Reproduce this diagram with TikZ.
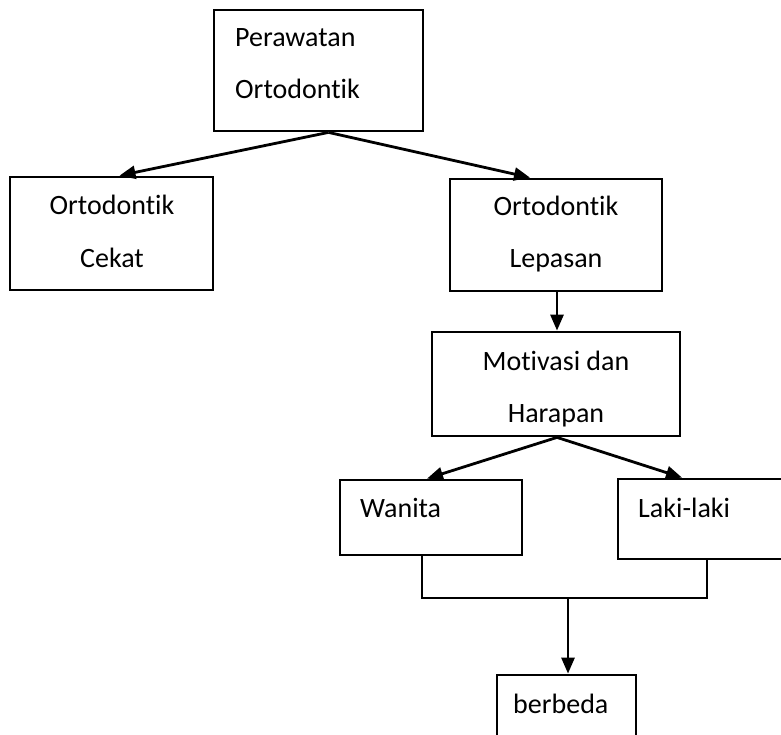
\documentclass[tikz,border=0pt]{standalone}
\usepackage{fontspec}
\setmainfont[Ligatures=NoCommon]{Carlito}
\usetikzlibrary{arrows.meta}
\begin{document}
\begin{tikzpicture}[x=1pt,y=-1pt,
	box/.style={draw,line width=2.8pt,inner sep=0pt},
	txt/.style={inner sep=0pt,font=\fontsize{28}{52}\selectfont},
	arr/.style={line width=2.8pt,-{Triangle[length=16pt,width=13pt]}}]
	\clip (0,0) rectangle (781,735);
	\node[box,minimum width=209,minimum height=121] (pera) at (318.5,70.5) {};
	\node[box,minimum width=203,minimum height=113] (cekat) at (111.5,233.5) {};
	\node[box,minimum width=212,minimum height=112] (lepas) at (556,235) {};
	\node[box,minimum width=248,minimum height=104] (motiv) at (556,384) {};
	\node[box,minimum width=182,minimum height=75] (wanita) at (431,517.5) {};
	\node[box,minimum width=182,minimum height=80] (laki) at (709,519) {};
	\node[box,minimum width=139,minimum height=84] (beda) at (566.5,717) {};
	\node[txt,anchor=base west,align=left] (tpera) at (235,99) {Perawatan\\Ortodontik};
	\node[txt,anchor=base,align=center] (tcekat) at (112,267) {Ortodontik\\Cekat};
	\node[txt,anchor=base,align=center] (tlepas) at (556,268) {Ortodontik\\Lepasan};
	\node[txt,anchor=base,align=center] (tmotiv) at (556,422) {Motivasi dan\\Harapan};
	\node[txt,anchor=base west] (twanita) at (360,517) {Wanita};
	\node[txt,anchor=base west] (tlaki) at (638,517) {Laki-laki};
	\node[txt,anchor=base west] (tbeda) at (513,713) {berbeda};
	\draw[arr] ([xshift=10pt]pera.south) -- ([xshift=8pt]cekat.north);
	\draw[arr] ([xshift=10pt]pera.south) -- ([xshift=-26pt]lepas.north);
	\draw[arr] ([xshift=1pt]lepas.south) -- ([xshift=1pt]motiv.north);
	\draw[arr] ([xshift=1pt]motiv.south) -- ([xshift=-4pt]wanita.north);
	\draw[arr] ([xshift=1pt]motiv.south) -- ([xshift=-27pt]laki.north);
	\coordinate (join) at (568,598);
	\draw[line width=2.8pt] ([xshift=-9pt]wanita.south) |- (join) -| ([xshift=-2pt]laki.south);
	\draw[arr] (join) -- (join |- beda.north);
\end{tikzpicture}
\end{document}
